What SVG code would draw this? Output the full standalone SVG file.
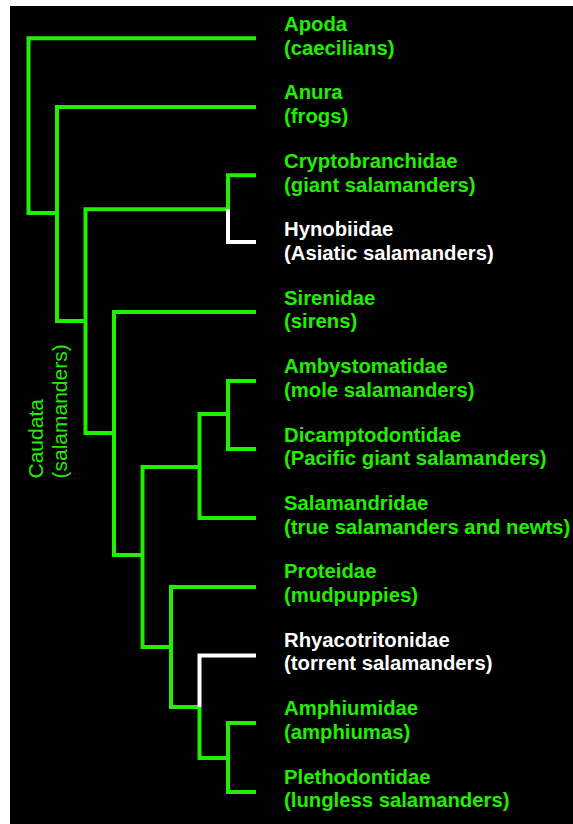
<svg xmlns="http://www.w3.org/2000/svg" width="573" height="824" viewBox="0 0 573 824">
<style>
.g{fill:none;stroke:#22ee00;stroke-width:4;stroke-linejoin:miter;stroke-linecap:butt}
.w{fill:none;stroke:#ffffff;stroke-width:4;stroke-linejoin:miter;stroke-linecap:butt}
.t{font-family:"Liberation Sans",Arial,sans-serif;font-weight:bold;font-size:20.3px}
.tg{fill:#22ee00}
.tw{fill:#ffffff}
.c{font-family:"Liberation Sans",Arial,sans-serif;font-size:21px;fill:#22ee00}
</style>
<rect x="0" y="0" width="573" height="824" fill="#ffffff"/>
<rect x="10" y="6" width="563" height="818" fill="#000000"/>
<g id="connectors">
<path class="g" d="M256,38.3 H28.5 V213 H57"/>
<path class="g" d="M256,107 H57 V321 H85.5"/>
<path class="g" d="M228,209.3 H85.5 V433 H114"/>
<path class="g" d="M256,175.3 H228 V209.3"/>
<path class="w" d="M228,209.3 V242 H256"/>
<path class="g" d="M256,312 H114 V555 H142.5"/>
<path class="g" d="M199.5,467 H142.5 V647 H171"/>
<path class="g" d="M228,414 H199.5 V518 H256"/>
<path class="g" d="M256,381 H228 V449 H256"/>
<path class="g" d="M256,587 H171 V707 H199.5"/>
<path class="w" d="M199.5,707 V655.5 H256"/>
<path class="g" d="M199.5,707 V758 H228"/>
<path class="g" d="M256,723 H228 V792 H256"/>
</g>
<g id="apoda" class="t tg"><text x="284" y="31">Apoda</text><text x="284" y="54.5">(caecilians)</text></g>
<g id="anura" class="t tg"><text x="284" y="99.4">Anura</text><text x="284" y="122.9">(frogs)</text></g>
<g id="cryptobranchidae" class="t tg"><text x="284" y="168">Cryptobranchidae</text><text x="284" y="191.5">(giant salamanders)</text></g>
<g id="hynobiidae" class="t tw"><text x="284" y="236.4">Hynobiidae</text><text x="284" y="259.9">(Asiatic salamanders)</text></g>
<g id="sirenidae" class="t tg"><text x="284" y="304.8">Sirenidae</text><text x="284" y="328.3">(sirens)</text></g>
<g id="ambystomatidae" class="t tg"><text x="284" y="373.2">Ambystomatidae</text><text x="284" y="396.7">(mole salamanders)</text></g>
<g id="dicamptodontidae" class="t tg"><text x="284" y="441.6">Dicamptodontidae</text><text x="284" y="465.1">(Pacific giant salamanders)</text></g>
<g id="salamandridae" class="t tg"><text x="284" y="510">Salamandridae</text><text x="284" y="533.5">(true salamanders and newts)</text></g>
<g id="proteidae" class="t tg"><text x="284" y="578.4">Proteidae</text><text x="284" y="601.9">(mudpuppies)</text></g>
<g id="rhyacotritonidae" class="t tw"><text x="284" y="646.8">Rhyacotritonidae</text><text x="284" y="670.3">(torrent salamanders)</text></g>
<g id="amphiumidae" class="t tg"><text x="284" y="715.2">Amphiumidae</text><text x="284" y="738.7">(amphiumas)</text></g>
<g id="plethodontidae" class="t tg"><text x="284" y="783.6">Plethodontidae</text><text x="284" y="807.1">(lungless salamanders)</text></g>
<g id="caudata" class="c" transform="translate(43.3,478.5) rotate(-90)"><text x="0" y="0">Caudata</text><text x="0" y="24">(salamanders)</text></g>
</svg>
